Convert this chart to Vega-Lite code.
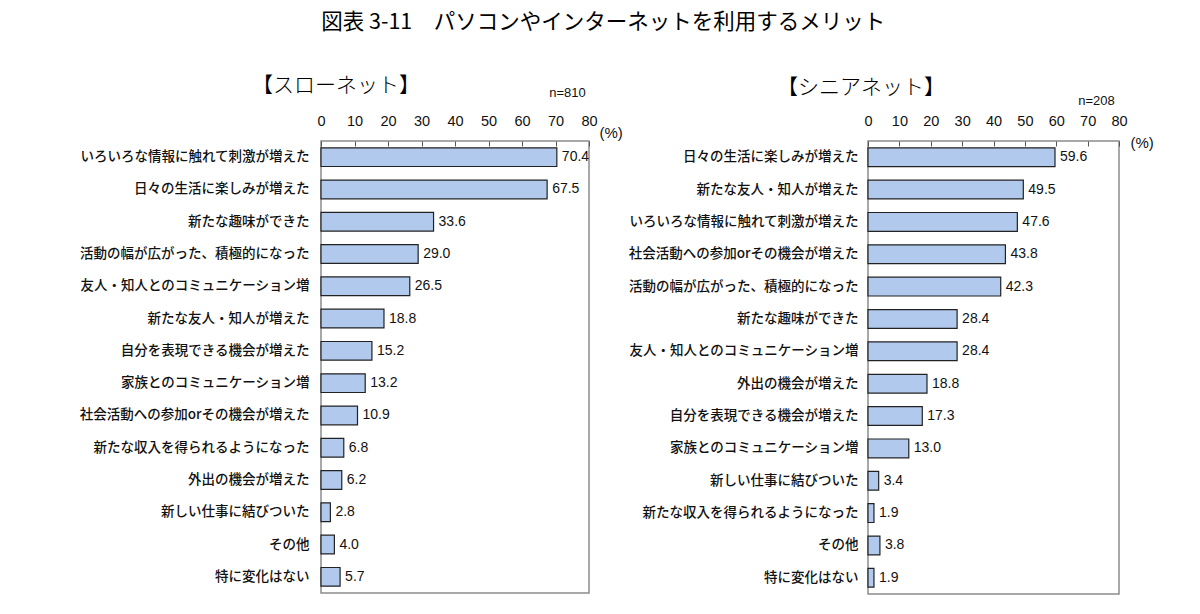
{
  "$schema": "https://vega.github.io/schema/vega-lite/v6.json",
  "autosize": {"type": "pad"},
  "padding": {"left": 78, "top": 11, "right": 0, "bottom": 0},
  "background": "white",
  "title": {
    "text": "図表 3-11　パソコンやインターネットを利用するメリット",
    "anchor": "middle",
    "frame": "bounds",
    "dx": -13,
    "font": "Noto Sans CJK JP",
    "fontSize": 21.5,
    "fontWeight": "normal",
    "color": "#000",
    "offset": 41
  },
  "config": {
    "view": {"stroke": "#8c8c8c", "strokeWidth": 1.5},
    "axis": {"labelColor": "#111", "titleColor": "#111"}
  },
  "datasets": {
    "slow": [
      {"item": "いろいろな情報に触れて刺激が増えた", "value": 70.4},
      {"item": "日々の生活に楽しみが増えた", "value": 67.5},
      {"item": "新たな趣味ができた", "value": 33.6},
      {"item": "活動の幅が広がった、積極的になった", "value": 29.0},
      {"item": "友人・知人とのコミュニケーション増", "value": 26.5},
      {"item": "新たな友人・知人が増えた", "value": 18.8},
      {"item": "自分を表現できる機会が増えた", "value": 15.2},
      {"item": "家族とのコミュニケーション増", "value": 13.2},
      {"item": "社会活動への参加orその機会が増えた", "value": 10.9},
      {"item": "新たな収入を得られるようになった", "value": 6.8},
      {"item": "外出の機会が増えた", "value": 6.2},
      {"item": "新しい仕事に結びついた", "value": 2.8},
      {"item": "その他", "value": 4.0},
      {"item": "特に変化はない", "value": 5.7}
    ],
    "senior": [
      {"item": "日々の生活に楽しみが増えた", "value": 59.6},
      {"item": "新たな友人・知人が増えた", "value": 49.5},
      {"item": "いろいろな情報に触れて刺激が増えた", "value": 47.6},
      {"item": "社会活動への参加orその機会が増えた", "value": 43.8},
      {"item": "活動の幅が広がった、積極的になった", "value": 42.3},
      {"item": "新たな趣味ができた", "value": 28.4},
      {"item": "友人・知人とのコミュニケーション増", "value": 28.4},
      {"item": "外出の機会が増えた", "value": 18.8},
      {"item": "自分を表現できる機会が増えた", "value": 17.3},
      {"item": "家族とのコミュニケーション増", "value": 13.0},
      {"item": "新しい仕事に結びついた", "value": 3.4},
      {"item": "新たな収入を得られるようになった", "value": 1.9},
      {"item": "その他", "value": 3.8},
      {"item": "特に変化はない", "value": 1.9}
    ]
  },
  "bounds": "flush",
  "spacing": 279,
  "hconcat": [
    {
      "width": 268,
      "height": 452,
      "data": {"name": "slow"},
      "title": {
        "text": "【スローネット】",
        "anchor": "start",
        "frame": "group",
        "dx": -69,
        "dy": 14,
        "font": "Noto Sans CJK JP",
        "fontSize": 21,
        "fontWeight": 300,
        "color": "#000",
        "offset": 4
      },
      "encoding": {
        "y": {
          "field": "item",
          "type": "nominal",
          "sort": null,
          "scale": {"paddingInner": 0.42, "paddingOuter": 0.21},
          "axis": {
            "title": "n=810",
            "titleAngle": 0,
            "titleX": 246,
            "titleY": -49,
            "titleAlign": "center",
            "titleBaseline": "middle",
            "titleFont": "Liberation Sans",
            "titleFontSize": 13,
            "titleFontWeight": "normal",
            "labelFont": "Noto Sans CJK JP",
            "labelFontSize": 13.5,
            "labelFontWeight": 500,
            "labelPadding": 12,
            "labelLimit": 400,
            "ticks": false,
            "domain": false
          }
        },
        "x": {
          "field": "value",
          "type": "quantitative",
          "scale": {"domain": [0, 80]},
          "axis": {
            "orient": "top",
            "values": [0, 10, 20, 30, 40, 50, 60, 70, 80],
            "grid": false,
            "domain": false,
            "tickSize": -5,
            "tickColor": "#555",
            "labelPadding": 18,
            "labelFlush": false,
            "labelFont": "Liberation Sans",
            "labelFontSize": 14.5,
            "title": "(%)",
            "titleX": 278,
            "titleY": -9,
            "titleAlign": "left",
            "titleBaseline": "middle",
            "titleFont": "Liberation Sans",
            "titleFontSize": 15,
            "titleFontWeight": "normal"
          }
        }
      },
      "layer": [
        {"mark": {"type": "bar", "fill": "#b0c9ec", "stroke": "#222", "strokeWidth": 1.2}},
        {
          "mark": {"type": "text", "align": "left", "baseline": "middle", "dx": 5, "font": "Liberation Sans", "fontSize": 14, "color": "#111"},
          "encoding": {"text": {"field": "value", "type": "quantitative", "format": ".1f"}}
        }
      ]
    },
    {
      "width": 251,
      "height": 453,
      "data": {"name": "senior"},
      "title": {
        "text": "【シニアネット】",
        "anchor": "start",
        "frame": "group",
        "dx": -91,
        "dy": 8,
        "font": "Noto Sans CJK JP",
        "fontSize": 21,
        "fontWeight": 300,
        "color": "#000",
        "offset": 4
      },
      "encoding": {
        "y": {
          "field": "item",
          "type": "nominal",
          "sort": null,
          "scale": {"paddingInner": 0.42, "paddingOuter": 0.21},
          "axis": {
            "title": "n=208",
            "titleAngle": 0,
            "titleX": 228,
            "titleY": -41,
            "titleAlign": "center",
            "titleBaseline": "middle",
            "titleFont": "Liberation Sans",
            "titleFontSize": 13,
            "titleFontWeight": "normal",
            "labelFont": "Noto Sans CJK JP",
            "labelFontSize": 13.5,
            "labelFontWeight": 500,
            "labelPadding": 10,
            "labelLimit": 400,
            "ticks": false,
            "domain": false
          }
        },
        "x": {
          "field": "value",
          "type": "quantitative",
          "scale": {"domain": [0, 80]},
          "axis": {
            "orient": "top",
            "values": [0, 10, 20, 30, 40, 50, 60, 70, 80],
            "grid": false,
            "domain": false,
            "tickSize": -5,
            "tickColor": "#555",
            "labelPadding": 18,
            "labelFlush": false,
            "labelFont": "Liberation Sans",
            "labelFontSize": 14.5,
            "title": "(%)",
            "titleX": 262,
            "titleY": 1,
            "titleAlign": "left",
            "titleBaseline": "middle",
            "titleFont": "Liberation Sans",
            "titleFontSize": 15,
            "titleFontWeight": "normal"
          }
        }
      },
      "layer": [
        {"mark": {"type": "bar", "fill": "#b0c9ec", "stroke": "#222", "strokeWidth": 1.2}},
        {
          "mark": {"type": "text", "align": "left", "baseline": "middle", "dx": 5, "font": "Liberation Sans", "fontSize": 14, "color": "#111"},
          "encoding": {"text": {"field": "value", "type": "quantitative", "format": ".1f"}}
        }
      ]
    }
  ]
}
